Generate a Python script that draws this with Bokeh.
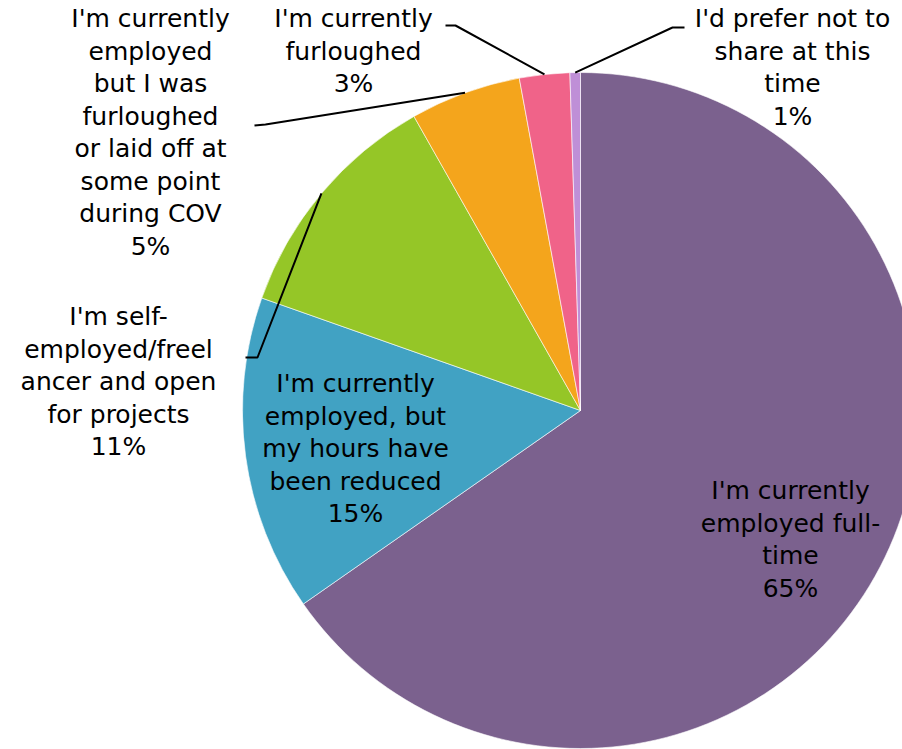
import numpy as np
from bokeh.plotting import figure
from bokeh.models import Range1d
from bokeh.core.properties import value
from bokeh.embed import file_html
from bokeh.resources import INLINE

# ---- data (clockwise from 12 o'clock) ----
categories = [
    "I'm currently employed full-time",
    "I'm currently employed, but my hours have been reduced",
    "I'm self-employed/freelancer and open for projects",
    "I'm currently employed but I was furloughed or laid off at some point during COV",
    "I'm currently furloughed",
    "I'd prefer not to share at this time",
]
shares = [65.3, 15.1, 11.4, 5.3, 2.4, 0.5]
pct_labels = ["65%", "15%", "11%", "5%", "3%", "1%"]
label_lines = [
    ["I'm currently", "employed full-", "time"],
    ["I'm currently", "employed, but", "my hours have", "been reduced"],
    ["I'm self-", "employed/freel", "ancer and open", "for projects"],
    ["I'm currently", "employed", "but I was", "furloughed", "or laid off at", "some point", "during COV"],
    ["I'm currently", "furloughed"],
    ["I'd prefer not to", "share at this", "time"],
]
colors = ["#7B618E", "#41A2C3", "#95C627", "#F4A51C", "#F06389", "#BF8FD7"]

# ---- layout (screen pixels) ----
W, H = 902, 749
SY = 749  # screen y -> data y = SY - screen_y
cx, cy_s, R = 580, 410, 338
label_pos = [(790, 490), (355, 383), (118, 316), (150, 18), (353, 18), (792, 18)]
line_gap = 32.5
# elbow points of leader lines (screen), None for inside labels
elbows = [None, None, [(245, 357), (257, 357)], [(254, 125), (265, 124)],
          [(445, 25), (455, 25)], [(684, 27), (672, 27)]]

p = figure(width=W, height=H, output_backend="svg", toolbar_location=None,
           x_range=Range1d(0, W), y_range=Range1d(SY - H, SY),
           min_border=0, outline_line_color=None)
p.axis.visible = False
p.grid.visible = False
p.background_fill_color = "white"
p.border_fill_color = "white"

vals = np.array(shares, dtype=float)
frac = vals / vals.sum()
cum_end = np.cumsum(frac)
cum_start = cum_end - frac
start = np.pi / 2 - cum_end * 2 * np.pi
end = np.pi / 2 - cum_start * 2 * np.pi
cy = SY - cy_s
p.wedge(x=cx, y=cy, radius=R, start_angle=start, end_angle=end,
        fill_color=colors, line_color="white", line_width=0.6)

# leader lines
mid = (start + end) / 2
for i, el in enumerate(elbows):
    if el is None:
        continue
    ex = cx + R * np.cos(mid[i])
    ey = cy + R * np.sin(mid[i])
    xs = [el[0][0], el[1][0], ex]
    ys = [SY - el[0][1], SY - el[1][1], ey]
    p.line(xs, ys, line_color="black", line_width=2)

# labels
tx, ty, tt = [], [], []
for i, lines in enumerate(label_lines):
    x0, y0 = label_pos[i]
    allines = lines + [pct_labels[i]]
    for k, t in enumerate(allines):
        tx.append(x0)
        ty.append(SY - (y0 + k * line_gap))
        tt.append(t)
p.text(x=tx, y=ty, text=tt, text_align="center", text_baseline="middle",
       text_font=value("DejaVu Sans"), text_font_size="25px", text_color="black")

open("out.html", "w").write(file_html(p, INLINE))
